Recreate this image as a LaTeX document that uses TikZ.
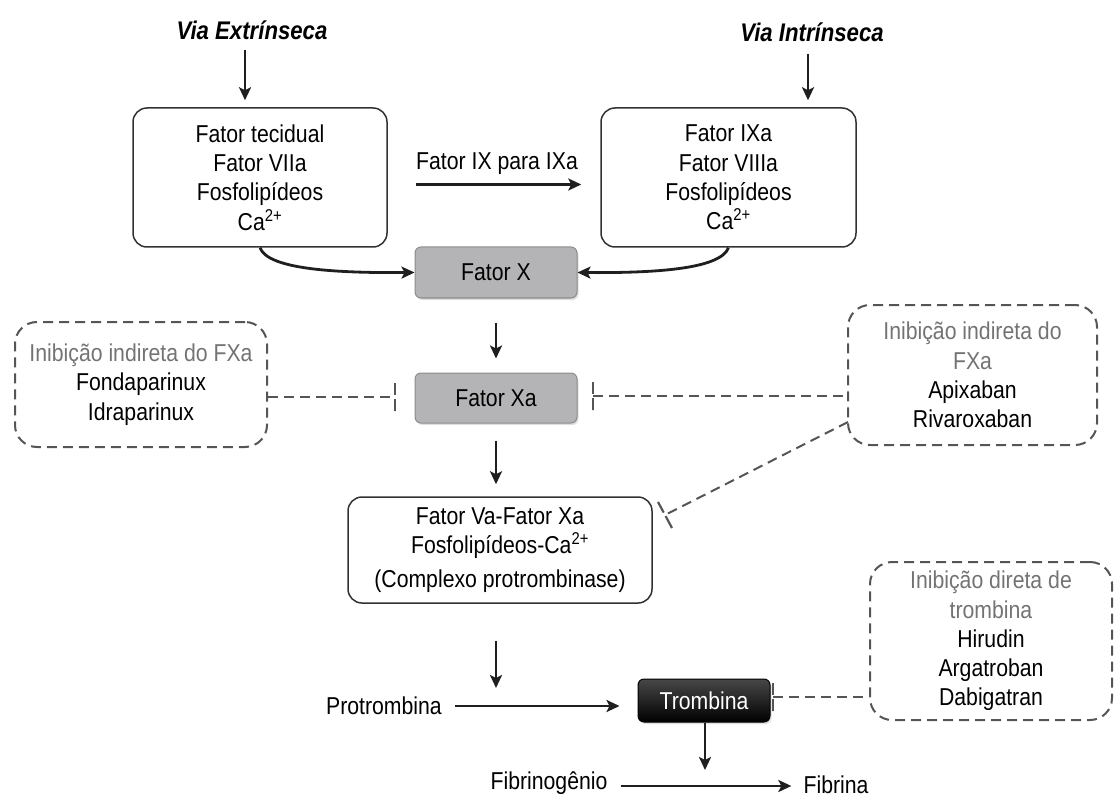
\documentclass[tikz,border=0pt]{standalone}
\usepackage{fontspec}
\setmainfont{Liberation Sans}[FakeStretch=0.87]
\usetikzlibrary{arrows.meta,shadows}
\definecolor{boxgray}{RGB}{180,180,182}
\definecolor{boxedge}{RGB}{140,140,142}
\definecolor{dashc}{RGB}{85,85,85}
\definecolor{headc}{RGB}{115,115,115}
\definecolor{edgec}{RGB}{50,50,50}
\begin{document}
\begin{tikzpicture}[x=1pt,y=-1pt,
  every node/.style={font=\fontsize{24.4}{29.3}\selectfont, inner sep=0pt, align=center},
  via/.style={font=\fontsize{25.5}{28}\selectfont\bfseries\itshape},
  wbox/.style={draw=edgec, line width=1.5pt, rounded corners=14pt, fill=white},
  gbox/.style={draw=boxedge, fill=boxgray, line width=1pt, rounded corners=6pt,
    drop shadow={opacity=0.25, shadow xshift=1.5pt, shadow yshift=-2pt}},
  tbox/.style={draw=black, top color=black!72, bottom color=black, line width=1pt, rounded corners=6pt, text=white,
    drop shadow={opacity=0.25, shadow xshift=1.5pt, shadow yshift=-2pt}},
  dbox/.style={draw=dashc, line width=2pt, dash pattern=on 10pt off 6pt, rounded corners=22pt},
  arr/.style={draw=black!88, line width=2.8pt, -{Stealth[length=13pt,width=12pt,inset=3pt]}},
  dline/.style={draw=dashc, line width=2pt, dash pattern=on 10pt off 6pt},
  barline/.style={draw=dashc, line width=2.2pt, dash pattern=on 12pt off 4pt on 12pt off 0pt}
]
\useasboundingbox (0,0) rectangle (1115,799);

% titles
\node[via] (viaE) at (252,30) {Via Extrínseca};
\node[via] (viaI) at (812,32) {Via Intrínseca};

% top boxes
\node[wbox, minimum width=254pt, minimum height=139pt] (bL) at (260,177.5)
  {Fator tecidual\\Fator VIIa\\Fosfolipídeos\\Ca\textsuperscript{2+}};
\node[wbox, minimum width=255pt, minimum height=139pt] (bR) at (728.5,177.5)
  {Fator IXa\\Fator VIIIa\\Fosfolipídeos\\Ca\textsuperscript{2+}};

\coordinate (eTop) at (245,50);
\coordinate (iTop) at (808,54);
\draw[arr, shorten >=7pt] (eTop) -- (eTop |- bL.north);
\draw[arr, shorten >=7pt] (iTop) -- (iTop |- bR.north);

\node (ixl) at (497,164) {Fator IX para IXa};
\draw[arr, shorten <=28pt, shorten >=19pt] ([yshift=-7pt]bL.east) -- ([yshift=-7pt]bR.west);

% Fator X, Xa
\node[gbox, minimum width=162pt, minimum height=51pt] (fx) at (496,272.5) {Fator X};
\node[gbox, minimum width=162pt, minimum height=50pt] (fxa) at (496,398) {Fator Xa};

\draw[arr] (bL.south) .. controls (268,270) and (340,273) .. (fx.west);
\draw[arr] (bR.south) .. controls (720,270) and (650,273) .. (fx.east);

\draw[arr, shorten <=24pt, shorten >=14pt] (fx.south) -- (fxa.north);

% complex
\node[wbox, minimum width=304pt, minimum height=106pt] (cx) at (500,550)
  {Fator Va-Fator Xa\\Fosfolipídeos-Ca\textsuperscript{2+}\\[5pt](Complexo protrombinase)};
\draw[arr, shorten <=17pt, shorten >=12pt] (fxa.south) -- (fxa.south |- cx.north);

% inhibitor boxes
\node[dbox, minimum width=252pt, minimum height=125pt] (lid) at (141,384.5)
  {\textcolor{headc}{Inibição indireta do FXa}\\Fondaparinux\\Idraparinux};
\node[dbox, minimum width=249pt, minimum height=140pt] (rid) at (972.5,375)
  {\textcolor{headc}{Inibição indireta do}\\\textcolor{headc}{FXa}\\Apixaban\\Rivaroxaban};
\node[dbox, minimum width=242pt, minimum height=158pt] (tid) at (991,641)
  {\textcolor{headc}{Inibição direta de}\\\textcolor{headc}{trombina}\\Hirudin\\Argatroban\\Dabigatran};

% inhibition lines
\coordinate (barL) at (395,397);
\draw[dline] (barL -| lid.east) -- (barL);
\draw[barline] ([yshift=14pt]barL) -- ([yshift=-14pt]barL);

\coordinate (barR) at (593,396);
\draw[dline] (barR) -- (barR -| rid.west);
\draw[barline] ([yshift=14pt]barR) -- ([yshift=-14pt]barR);

\coordinate (dS) at (848,422);
\coordinate (barC) at (665,515);
\draw[dline] (dS) -- (barC);
\draw[barline] (barC) ++(-7,-13) -- ++(14,26);

% thrombin
\node[tbox, minimum width=132pt, minimum height=43pt] (tb) at (704,700.5) {Trombina};
\node (pro) at (384,706) {Protrombina};
\coordinate (pdown) at (496,688);
\draw[arr, shorten <=37pt] (pdown |- cx.south) -- (pdown);
\draw[arr, shorten <=13pt, shorten >=18pt] (pro.east) -- (tb.west |- pro.east);

\coordinate (barT) at (773,697);
\draw[dline] (barT) -- (barT -| tid.west);
\draw[barline] ([yshift=14pt]barT) -- ([yshift=-14pt]barT);

\coordinate (tdown) at (705,770);
\draw[arr] (tb.south -| tdown) -- (tdown);

\node (fg) at (549,783) {Fibrinogênio};
\node (fb) at (836,785) {Fibrina};
\draw[arr, shorten <=13pt, shorten >=12pt] ([yshift=-3pt]fg.east) -- ([yshift=-1pt]fb.west);
\end{tikzpicture}
\end{document}
